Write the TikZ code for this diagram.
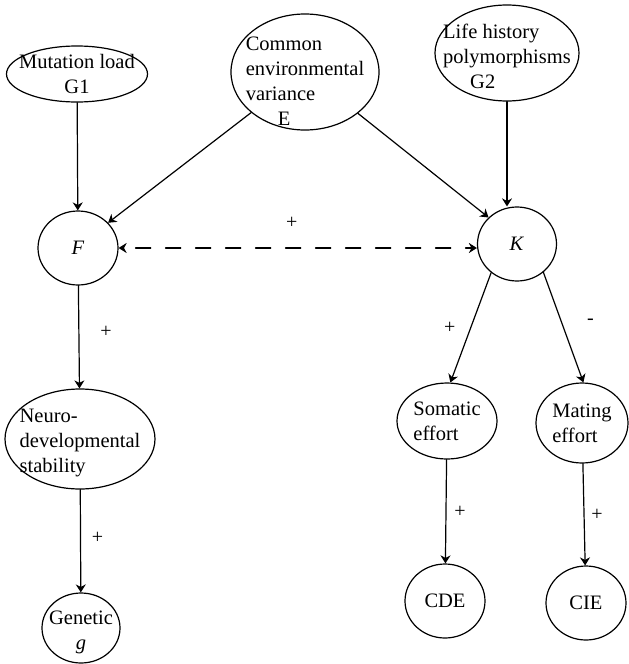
\documentclass[tikz,border=0pt]{standalone}
\usepackage{fontspec}
\setmainfont{Liberation Serif}
\usetikzlibrary{arrows.meta}
\usetikzlibrary{shapes.geometric}

\begin{document}
\begin{tikzpicture}[line cap=round,line join=round,>={Stealth[length=8pt,width=10pt,inset=2.5pt]},x=1pt,y=-1pt,
    bub/.style 2 args={ellipse,draw,line width=1.2pt,minimum width=#1,minimum height=#2,inner sep=-30pt,align=left,font=\fontsize{20.5}{25}\selectfont},
    sgn/.style={font=\fontsize{20}{20}\selectfont,inner sep=0pt},
    lnk/.style={->,line width=1.2pt}]
      \useasboundingbox (0,0) rectangle (629,664);
      \node[bub={141pt}{56pt},align=center] (G1) at (77,74) {Mutation load\\G1};
      \node[bub={148pt}{116pt}] (E) at (305,72) {\rule{0pt}{31pt}Common\\environmental\\variance\\\hspace*{32pt}E};
      \node[bub={144pt}{96pt}] (G2) at (507,53) {\rule{0pt}{22pt}Life history\\polymorphisms\\\hspace*{27pt}G2};
      \node[bub={80pt}{74pt}] (F) at (78,248) {\textit{F}};
      \node[bub={79pt}{74pt}] (K) at (517,244) {\textit{K}};
      \node[bub={150pt}{100pt}] (NDS) at (80,439) {\rule{0pt}{22pt}Neuro-\\developmental\\stability};
      \node[bub={78pt}{70pt},align=center] (Gen) at (81,628) {\rule{0pt}{22pt}Genetic\\\textit{g}};
      \node[bub={100pt}{76pt}] (Som) at (447,421) {Somatic\\effort};
      \node[bub={92pt}{80pt}] (Mat) at (582,423) {Mating\\effort};
      \node[bub={80pt}{74pt}] (CDE) at (445,601) {CDE};
      \node[bub={80pt}{74pt}] (CIE) at (586,603) {CIE};
      \draw[lnk] (G1) -- (F);
      \draw[lnk] (E.217) -- (F.40);
      \draw[lnk] (E.322) -- (K.137);
      \draw[lnk] (G2.south) -- (G2.south |- K.north);
      \draw[<->,line width=1.5pt,dash pattern=on 15pt off 15pt,dash phase=-12pt] (F.east) -- node[sgn,midway,xshift=-6pt,yshift=25pt] {+} (F.east -| K.west);
      \draw[lnk] (F) -- node[sgn,midway,xshift=27pt,yshift=5pt] {+} (NDS);
      \draw[lnk] (NDS) -- node[sgn,midway,xshift=17pt,yshift=3pt] {+} (Gen);
      \draw[lnk] (K.228) -- node[sgn,midway,xshift=-21pt] {+} (Som.85);
      \draw[lnk] (K.313) -- node[sgn,midway,xshift=27pt,yshift=6pt] {-} (Mat.88);
      \draw[lnk] (Som) -- node[sgn,midway,xshift=14pt] {+} (CDE);
      \draw[lnk] (Mat) -- node[sgn,midway,xshift=13pt] {+} (CIE);
    \end{tikzpicture}
\end{document}
